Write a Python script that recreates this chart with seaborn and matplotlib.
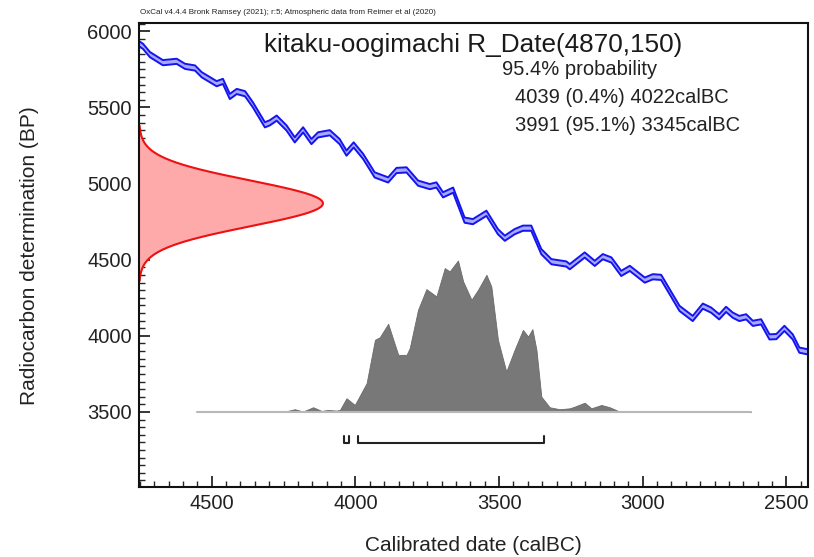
import matplotlib
matplotlib.use("Agg")
import matplotlib.pyplot as plt
from matplotlib.ticker import MultipleLocator
import numpy as np
import seaborn as sns

# calibration curve (IntCal20 section), calBC vs BP
cal_bc = [4753, 4739, 4715, 4670, 4622, 4593, 4558, 4535, 4506, 4483, 4461, 4437, 4413, 4384, 4357,
          4315, 4298, 4274, 4240, 4211, 4182, 4153, 4130, 4089, 4055, 4031, 4006, 3973, 3933, 3886,
          3857, 3822, 3782, 3741, 3718, 3695, 3660, 3620, 3591, 3544, 3504, 3480, 3446, 3417, 3388,
          3353, 3318, 3266, 3254, 3202, 3167, 3139, 3109, 3075, 3045, 2993, 2965, 2936, 2872, 2826,
          2791, 2762, 2734, 2710, 2687, 2664, 2640, 2617, 2588, 2559, 2535, 2507, 2478, 2455, 2426]
c14_bp = [5919, 5901, 5847, 5794, 5803, 5770, 5759, 5715, 5682, 5656, 5671, 5572, 5605, 5590, 5518,
          5386, 5399, 5430, 5366, 5287, 5353, 5276, 5320, 5334, 5276, 5200, 5254, 5178, 5057, 5024,
          5086, 5090, 5003, 4980, 4991, 4926, 4957, 4760, 4750, 4805, 4684, 4641, 4684, 4707, 4707,
          4553, 4487, 4472, 4454, 4531, 4476, 4520, 4498, 4410, 4443, 4366, 4388, 4384, 4180, 4114,
          4195, 4169, 4125, 4174, 4136, 4114, 4125, 4082, 4092, 3993, 3995, 4049, 3993, 3906, 3895]
curve_sigma = 17

# calibrated probability (drawn above 3500 BP)
post_bc = [4552, 4437, 4357, 4309, 4263, 4240, 4211, 4182, 4147, 4118, 4095, 4066, 4054, 4031, 4002,
           3961, 3932, 3915, 3886, 3851, 3822, 3811, 3782, 3753, 3718, 3689, 3672, 3643, 3625, 3596,
           3573, 3544, 3527, 3504, 3475, 3446, 3417, 3399, 3384, 3370, 3353, 3324, 3289, 3254, 3237,
           3202, 3179, 3144, 3115, 3080, 3034, 2965, 2908, 2623]
post_h = [0, 0, 0, 4, 0, 5, 18, 3, 31, 7, 13, 9, 13, 90, 46,
          189, 474, 491, 579, 375, 375, 419, 671, 807, 759, 945, 923, 995, 857, 737,
          803, 901, 824, 474, 265, 408, 539, 495, 544, 408, 101, 31, 18, 24, 35,
          61, 24, 46, 31, 2, 4, 0, 0, 0]
post_base = 3500

# R_Date(4870,150)
r_mean = 4870
r_sd = 150
r_peak = 640

# 95.4% ranges
ranges_from = [4039, 3991]
ranges_to = [4022, 3345]
range_pct = ["0.4%", "95.1%"]

sns.set_theme(style="white")
plt.rcParams["font.family"] = ["Liberation Sans", "DejaVu Sans"]

fig = plt.figure(figsize=(8.14, 5.57), dpi=100)
ax = fig.add_axes([0.1708, 0.1248, 0.8218, 0.834])

cal = np.array(cal_bc)
bp = np.array(c14_bp)
ax.fill_between(cal, bp - curve_sigma, bp + curve_sigma, color="#a8a8ff", lw=0)
sns.lineplot(x=cal, y=bp + curve_sigma, ax=ax, color="#1414f0", lw=1.4, sort=False)
sns.lineplot(x=cal, y=bp - curve_sigma, ax=ax, color="#1414f0", lw=1.4, sort=False)

# radiocarbon date on the y axis
xlim_left = 4753
yy = np.linspace(r_mean - 3.4 * r_sd, r_mean + 3.4 * r_sd, 300)
xx = xlim_left - r_peak * np.exp(-0.5 * ((yy - r_mean) / r_sd) ** 2)
ax.fill_betweenx(yy, xlim_left, xx, color="#ffaaaa", lw=0)
ax.plot(xx, yy, color="#ee1111", lw=1.5)

# calibrated distribution
ax.plot([post_bc[0], post_bc[-1]], [post_base, post_base], color="#b8b8b8", lw=1.5)
ax.fill_between(post_bc, post_base, np.array(post_h) + post_base, color="#787878", lw=0.6,
                edgecolor="#6a6a6a")

# range brackets
bar_y = 3298
for a, b in zip(ranges_from, ranges_to):
    ax.plot([a, a, b, b], [bar_y + 45, bar_y, bar_y, bar_y + 45], color="#222222", lw=1.5)

ax.set_xlim(xlim_left, 2425)
ax.set_ylim(3004, 6055)
ax.xaxis.set_major_locator(MultipleLocator(500))
ax.xaxis.set_minor_locator(MultipleLocator(50))
ax.yaxis.set_major_locator(MultipleLocator(500))
ax.yaxis.set_minor_locator(MultipleLocator(50))
ax.tick_params(which="major", direction="in", length=8, width=1.3, labelsize=14.5,
               labelcolor="#222222", pad=5, bottom=True, left=True)
ax.tick_params(which="minor", direction="in", length=4, width=1.0, bottom=True, left=True)
for s in ax.spines.values():
    s.set_color("#111111")
    s.set_linewidth(1.5)

ax.set_xlabel("Calibrated date (calBC)", fontsize=15, color="#222222")
ax.xaxis.set_label_coords(0.5, -0.105)
ax.set_ylabel("Radiocarbon determination (BP)", fontsize=15, color="#222222")
ax.yaxis.set_label_coords(-0.15, 0.5)

ax.text(0.5, 0.953, "kitaku-oogimachi R_Date(4870,150)", transform=ax.transAxes,
        ha="center", va="center", fontsize=18.8, color="#1a1a1a")
ax.text(0.542, 0.899, "95.4% probability", transform=ax.transAxes,
        ha="left", va="center", fontsize=14.5, color="#222222")
for i in range(len(ranges_from)):
    ax.text(0.562, 0.8385 - i * 0.0585,
            f"{ranges_from[i]} ({range_pct[i]}) {ranges_to[i]}calBC",
            transform=ax.transAxes, ha="left", va="center", fontsize=14.5, color="#222222")

fig.text(0.172, 0.978, "OxCal v4.4.4 Bronk Ramsey (2021); r:5; Atmospheric data from Reimer et al (2020)",
         ha="left", va="center", fontsize=5.8, color="#222222")

fig.savefig("out.png", dpi=100)
